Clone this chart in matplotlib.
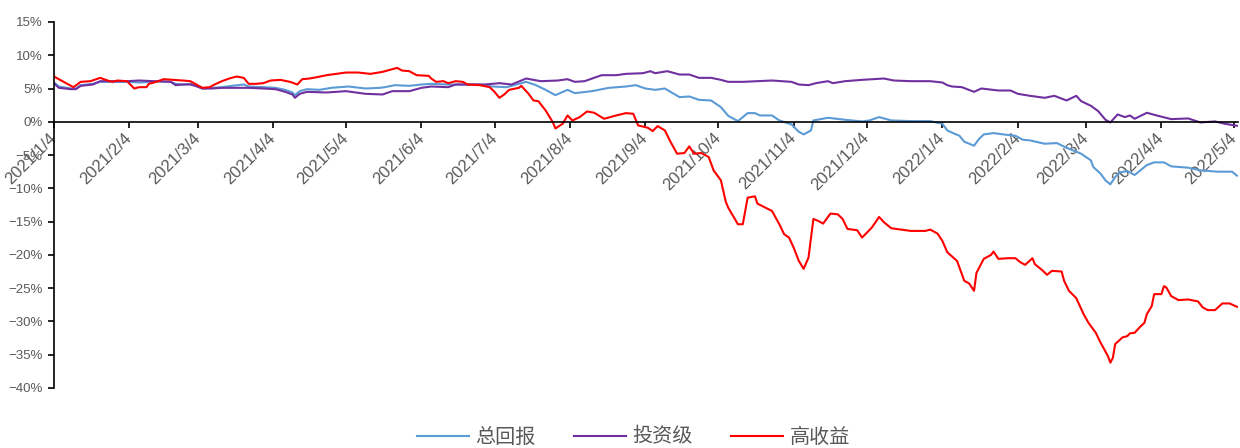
import pandas as pd
import matplotlib
matplotlib.use("Agg")
import matplotlib.pyplot as plt
from matplotlib.ticker import FuncFormatter, MultipleLocator

plt.rcParams['font.family'] = ['Liberation Sans', 'Noto Sans CJK SC']

start = pd.Timestamp("2021-01-04")

# days after 2021/1/4, values in %
days_total = [0, 2, 7, 9, 11, 16, 19, 24, 30, 35, 41, 42, 48, 50, 53, 56, 58, 61, 65, 69,
              73, 78, 80, 86, 91, 95, 98, 99, 101, 104, 109, 114, 121, 128, 134, 136, 140,
              146, 151, 155, 162, 168, 175, 180, 186, 190, 194, 198, 202, 206, 211, 214,
              221, 228, 235, 239, 243, 247, 251, 257, 261, 265, 270, 274, 277, 281, 285,
              288, 290, 295, 298, 303, 306, 308, 311, 312, 318, 325, 332, 335, 339, 344,
              352, 360, 365, 367, 370, 372, 374, 378, 380, 382, 386, 390, 395, 398, 401,
              407, 412, 416, 422, 424, 426, 427, 430, 432, 434, 436, 438, 441, 444, 449,
              452, 456, 459, 466, 471, 478, 484, 486]
total = [5.9, 5.3, 5.0, 5.0, 5.5, 5.7, 6.0, 6.0, 6.0, 5.9, 6.0, 6.1, 6.0, 5.7, 5.6, 5.7,
         5.5, 5.0, 5.1, 5.2, 5.4, 5.6, 5.3, 5.2, 5.1, 4.8, 4.4, 4.0, 4.6, 4.9, 4.8, 5.1,
         5.3, 5.0, 5.1, 5.2, 5.5, 5.4, 5.6, 5.7, 5.6, 5.6, 5.6, 5.3, 5.2, 5.6, 6.0, 5.5,
         4.8, 4.0, 4.8, 4.3, 4.6, 5.1, 5.3, 5.5, 5.0, 4.8, 5.0, 3.7, 3.8, 3.3, 3.2, 2.2,
         0.9, 0.1, 1.3, 1.3, 0.95, 0.95, 0.2, -0.4, -1.5, -1.9, -1.3, 0.2, 0.6, 0.3, 0.05,
         0.2, 0.7, 0.2, 0.1, 0.1, -0.3, -1.3, -1.8, -2.1, -3.0, -3.6, -2.6, -1.9, -1.7,
         -1.9, -2.1, -2.7, -2.8, -3.3, -3.2, -3.9, -4.8, -5.3, -5.8, -6.8, -7.8, -8.8,
         -9.4, -8.3, -7.6, -7.4, -8.0, -6.5, -6.1, -6.1, -6.7, -6.9, -7.3, -7.5, -7.5, -8.1]

days_ig = [0, 2, 7, 9, 11, 16, 19, 24, 30, 35, 41, 48, 50, 53, 56, 58, 61, 65, 69, 73, 80,
           86, 91, 95, 98, 99, 101, 104, 112, 120, 128, 135, 139, 146, 151, 155, 162, 165,
           172, 177, 183, 188, 194, 200, 207, 211, 214, 218, 225, 231, 235, 242, 245, 247,
           252, 257, 261, 265, 270, 274, 277, 283, 289, 295, 303, 306, 310, 313, 318, 320,
           325, 332, 341, 345, 352, 360, 365, 367, 369, 373, 378, 381, 388, 393, 396, 401,
           407, 411, 416, 420, 422, 426, 429, 432, 434, 437, 440, 442, 444, 449, 453, 459,
           466, 471, 477, 481, 486]
ig = [5.8, 5.1, 4.9, 4.9, 5.4, 5.6, 6.1, 6.1, 6.1, 6.2, 6.1, 6.0, 5.5, 5.6, 5.6, 5.4, 5.0,
      5.0, 5.1, 5.1, 5.1, 5.0, 4.9, 4.5, 4.1, 3.6, 4.2, 4.5, 4.4, 4.6, 4.2, 4.1, 4.6, 4.6,
      5.1, 5.3, 5.2, 5.6, 5.6, 5.6, 5.8, 5.6, 6.5, 6.1, 6.2, 6.4, 6.0, 6.1, 7.0, 7.0, 7.2,
      7.3, 7.6, 7.3, 7.6, 7.1, 7.1, 6.6, 6.6, 6.3, 6.0, 6.0, 6.1, 6.2, 6.0, 5.6, 5.5, 5.8,
      6.1, 5.8, 6.1, 6.3, 6.5, 6.2, 6.1, 6.1, 5.9, 5.5, 5.3, 5.2, 4.5, 5.0, 4.7, 4.7, 4.2,
      3.9, 3.6, 3.9, 3.2, 3.9, 3.1, 2.4, 1.6, 0.3, -0.1, 1.1, 0.7, 0.95, 0.45, 1.35, 0.95,
      0.4, 0.5, -0.1, 0.05, -0.3, -0.6]

days_hy = [0, 4, 8, 11, 15, 19, 22, 24, 26, 30, 33, 35, 38, 39, 42, 45, 49, 53, 56, 58, 61,
           64, 66, 69, 72, 75, 78, 80, 83, 86, 89, 93, 97, 100, 102, 105, 108, 112, 116,
           120, 125, 130, 135, 138, 141, 143, 146, 149, 154, 155, 157, 160, 162, 165, 168,
           170, 175, 179, 181, 183, 185, 187, 191, 192, 195, 197, 199, 202, 205, 206, 209,
           211, 213, 216, 219, 222, 226, 231, 235, 238, 240, 244, 246, 248, 251, 253, 256,
           259, 261, 263, 266, 269, 271, 274, 276, 277, 281, 283, 285, 288, 289, 295, 298,
           300, 302, 304, 306, 308, 310, 312, 314, 316, 319, 322, 324, 326, 330, 332, 336,
           339, 341, 344, 348, 352, 358, 360, 363, 365, 367, 371, 374, 376, 378, 379, 382,
           385, 386, 388, 392, 395, 397, 399, 402, 403, 406, 408, 410, 414, 415, 417, 420,
           423, 425, 428, 430, 433, 434, 435, 436, 439, 441, 442, 444, 446, 448, 449, 451,
           452, 455, 456, 457, 459, 462, 466, 470, 472, 474, 477, 480, 483, 486]
hy = [6.8, 6.0, 5.2, 6.0, 6.1, 6.6, 6.2, 6.0, 6.2, 6.1, 5.0, 5.2, 5.2, 5.7, 6.0, 6.4, 6.3,
      6.2, 6.1, 5.7, 5.1, 5.2, 5.6, 6.1, 6.5, 6.8, 6.6, 5.7, 5.7, 5.8, 6.2, 6.3, 6.0, 5.6,
      6.4, 6.5, 6.7, 7.0, 7.2, 7.4, 7.4, 7.2, 7.5, 7.8, 8.1, 7.7, 7.6, 7.0, 6.9, 6.5, 6.0,
      6.1, 5.8, 6.1, 6.0, 5.6, 5.5, 5.2, 4.5, 3.6, 4.1, 4.8, 5.1, 5.4, 4.2, 3.2, 3.1, 1.7,
      -0.1, -1.0, -0.3, 0.95, 0.2, 0.7, 1.55, 1.35, 0.45, 0.95, 1.3, 1.2, -0.55, -0.9, -1.4,
      -0.65, -1.3, -2.8, -4.8, -4.7, -3.7, -4.8, -4.7, -5.3, -7.3, -8.8, -12.0, -12.9,
      -15.4, -15.4, -11.4, -11.2, -12.3, -13.4, -15.4, -16.9, -17.4, -19.0, -20.9, -22.1,
      -20.4, -14.6, -14.9, -15.3, -13.8, -13.9, -14.6, -16.1, -16.3, -17.4, -15.9, -14.3,
      -15.1, -16.0, -16.2, -16.4, -16.4, -16.2, -16.8, -17.9, -19.6, -20.9, -23.9, -24.3,
      -25.4, -22.7, -20.6, -20.0, -19.5, -20.6, -20.5, -20.5, -21.1, -21.5, -20.5, -21.4,
      -22.3, -23.0, -22.4, -22.5, -23.9, -25.4, -26.5, -28.9, -30.2, -31.7, -33.2, -35.2,
      -36.2, -35.5, -33.4, -32.4, -32.2, -31.8, -31.7, -30.9, -30.2, -28.9, -27.7, -25.9,
      -25.9, -24.7, -24.9, -26.2, -26.8, -26.7, -27.0, -27.9, -28.3, -28.3, -27.3, -27.3,
      -27.8]

names = ["总回报", "投资级", "高收益"]
colors = ["#5B9BD5", "#7030A0", "#FF0000"]

tick_dates = pd.date_range("2021-01-01", "2022-05-01", freq="MS") + pd.Timedelta(days=3)
gray = "#595959"

fig = plt.figure(figsize=(12.4, 4.48), dpi=100)
ax = fig.add_axes([0.0435, 0.134, 0.955, 0.817])

series = [(days_total, total), (days_ig, ig), (days_hy, hy)]
for (d, v), name, c in zip(series, names, colors):
    x = start + pd.to_timedelta(d, unit="D")
    ax.plot(x, v, color=c, lw=1.5, label=name)

ax.set_ylim(-40, 15)
ax.set_xlim(start, start + pd.Timedelta(days=486.5))
ax.yaxis.set_major_locator(MultipleLocator(5))
ax.yaxis.set_major_formatter(FuncFormatter(lambda v, p: f"{v:.0f}%".replace("-", "\u2212")))

ax.spines["top"].set_visible(False)
ax.spines["right"].set_visible(False)
ax.spines["bottom"].set_position(("data", 0))
for s in ["left", "bottom"]:
    ax.spines[s].set_color("black")
    ax.spines[s].set_linewidth(1.2)

ax.tick_params(axis="y", direction="out", length=4, width=1.2, pad=4,
               labelsize=9.5, labelcolor=gray)
ax.tick_params(axis="x", direction="out", length=4, width=1.2, pad=6,
               labelsize=12, labelcolor=gray)

ax.set_xticks(tick_dates)
ax.set_xticklabels([f"{t.year}/{t.month}/{t.day}" for t in tick_dates])
for lab in ax.get_xticklabels():
    lab.set_rotation(45)
    lab.set_ha("right")
    lab.set_va("center")
    lab.set_rotation_mode("anchor")

leg = fig.legend(loc="center", bbox_to_anchor=(0.511, 0.024), ncol=3, frameon=False,
                 handlelength=2.55, columnspacing=1.9, handletextpad=0.35,
                 prop={"family": ["Noto Sans CJK SC"], "size": 14.5})
for t in leg.get_texts():
    t.set_color(gray)

fig.savefig("out.png", dpi=100)
